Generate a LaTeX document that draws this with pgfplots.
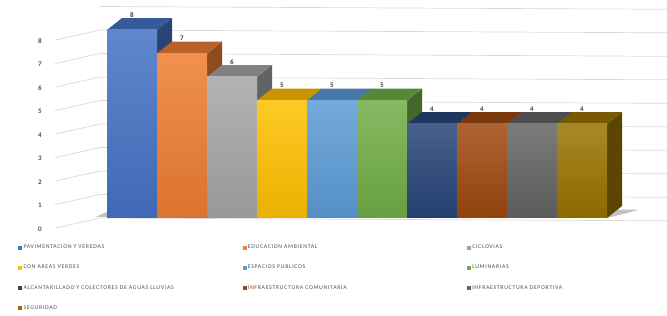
\documentclass[border=0pt]{standalone}
\usepackage{pgfplots}
\pgfplotsset{compat=1.18}
\usepackage{fontspec}
\setmainfont{Carlito}
\newfontfamily\legfont[LetterSpace=12]{Carlito}
\definecolor{c1}{HTML}{4472C4}
\definecolor{c2}{HTML}{ED7D31}
\definecolor{c3}{HTML}{A5A5A5}
\definecolor{c4}{HTML}{FFC000}
\definecolor{c5}{HTML}{5B9BD5}
\definecolor{c6}{HTML}{70AD47}
\definecolor{c7}{HTML}{264478}
\definecolor{c8}{HTML}{9E480E}
\definecolor{c9}{HTML}{636363}
\definecolor{c10}{HTML}{997300}
\definecolor{gridc}{HTML}{D9D9D9}
\definecolor{txt}{HTML}{505050}
\pgfplotsset{
  front/.style={forget plot, draw=none, shade, top color=#1!85!white, bottom color=#1!92!black},
  side/.style={forget plot, draw=none, fill=#1!60!black},
  topf/.style={forget plot, draw=none, fill=#1!78!black},
  grd/.style={forget plot, draw=gridc, line width=0.7pt},
}
\begin{document}
\begin{tikzpicture}
\useasboundingbox (0,0) rectangle (667pt,316pt);
\begin{axis}[
  at={(52pt,86.25pt)}, anchor=south west,
  x=50pt, y=23.5pt,
  xmin=-1.6, xmax=10.7, ymin=-0.5, ymax=9.5,
  axis lines=none, clip=false,
  legend columns=3,
  legend image code/.code={\fill[#1, draw=none] (0pt,-2pt) rectangle (4pt,2pt);},
  legend style={at={(-0.06,-0.05)}, anchor=north west, draw=none, fill=none,
    font=\legfont\fontsize{5.8}{6}\selectfont, text=txt,
    nodes={inner sep=1.2pt}, row sep=12.6pt,
    /tikz/every even column/.append style={column sep=0pt}},
  legend cell align=left,
]
% back wall gridlines
\addplot[grd] coordinates {(-1.54,-0.43) (-0.64,0) (10.7,-0.12)};
\addplot[grd] coordinates {(-1.54,0.57) (-0.64,1) (10.7,0.88)};
\addplot[grd] coordinates {(-1.54,1.57) (-0.64,2) (10.7,1.88)};
\addplot[grd] coordinates {(-1.54,2.57) (-0.64,3) (10.7,2.88)};
\addplot[grd] coordinates {(-1.54,3.57) (-0.64,4) (10.7,3.88)};
\addplot[grd] coordinates {(-1.54,4.57) (-0.64,5) (10.7,4.88)};
\addplot[grd] coordinates {(-1.54,5.57) (-0.64,6) (10.7,5.88)};
\addplot[grd] coordinates {(-1.54,6.57) (-0.64,7) (10.7,6.88)};
\addplot[grd] coordinates {(-1.54,7.57) (-0.64,8) (10.7,7.88)};
\addplot[grd] coordinates {(-0.64,9) (10.7,8.88)};
% y labels
\addplot[forget plot, draw=none, mark=none, nodes near coords, point meta=explicit symbolic,
  nodes near coords style={anchor=center, font=\bfseries\fontsize{7}{8}\selectfont, text=txt}]
  coordinates {(-1.84,-0.46)[0] (-1.84,0.54)[1] (-1.84,1.54)[2] (-1.84,2.54)[3] (-1.84,3.54)[4]
  (-1.84,4.54)[5] (-1.84,5.54)[6] (-1.84,6.54)[7] (-1.84,7.54)[8]};
% floor shadow
\addplot[forget plot, draw=none, fill=gray!65, opacity=0.75] coordinates {(-0.72,0.05) (9.5,0) (10.15,0.35) (-0.3,0.45)} --cycle;
% bars
\addplot[side=c1] coordinates {(0.5,0) (0.8,0.51) (0.8,8.51) (0.5,8)} --cycle;
\addplot[topf=c1] coordinates {(-0.5,8) (0.5,8) (0.8,8.51) (-0.2,8.51)} --cycle;
\addplot[front=c1] coordinates {(-0.5,0) (0.5,0) (0.5,8) (-0.5,8)} --cycle;
\addplot[side=c2] coordinates {(1.5,0) (1.8,0.51) (1.8,7.51) (1.5,7)} --cycle;
\addplot[topf=c2] coordinates {(0.5,7) (1.5,7) (1.8,7.51) (0.8,7.51)} --cycle;
\addplot[front=c2] coordinates {(0.5,0) (1.5,0) (1.5,7) (0.5,7)} --cycle;
\addplot[side=c3] coordinates {(2.5,0) (2.8,0.51) (2.8,6.51) (2.5,6)} --cycle;
\addplot[topf=c3] coordinates {(1.5,6) (2.5,6) (2.8,6.51) (1.8,6.51)} --cycle;
\addplot[front=c3] coordinates {(1.5,0) (2.5,0) (2.5,6) (1.5,6)} --cycle;
\addplot[side=c4] coordinates {(3.5,0) (3.8,0.51) (3.8,5.51) (3.5,5)} --cycle;
\addplot[topf=c4] coordinates {(2.5,5) (3.5,5) (3.8,5.51) (2.8,5.51)} --cycle;
\addplot[front=c4] coordinates {(2.5,0) (3.5,0) (3.5,5) (2.5,5)} --cycle;
\addplot[side=c5] coordinates {(4.5,0) (4.8,0.51) (4.8,5.51) (4.5,5)} --cycle;
\addplot[topf=c5] coordinates {(3.5,5) (4.5,5) (4.8,5.51) (3.8,5.51)} --cycle;
\addplot[front=c5] coordinates {(3.5,0) (4.5,0) (4.5,5) (3.5,5)} --cycle;
\addplot[side=c6] coordinates {(5.5,0) (5.8,0.51) (5.8,5.51) (5.5,5)} --cycle;
\addplot[topf=c6] coordinates {(4.5,5) (5.5,5) (5.8,5.51) (4.8,5.51)} --cycle;
\addplot[front=c6] coordinates {(4.5,0) (5.5,0) (5.5,5) (4.5,5)} --cycle;
\addplot[side=c7] coordinates {(6.5,0) (6.8,0.51) (6.8,4.51) (6.5,4)} --cycle;
\addplot[topf=c7] coordinates {(5.5,4) (6.5,4) (6.8,4.51) (5.8,4.51)} --cycle;
\addplot[front=c7] coordinates {(5.5,0) (6.5,0) (6.5,4) (5.5,4)} --cycle;
\addplot[side=c8] coordinates {(7.5,0) (7.8,0.51) (7.8,4.51) (7.5,4)} --cycle;
\addplot[topf=c8] coordinates {(6.5,4) (7.5,4) (7.8,4.51) (6.8,4.51)} --cycle;
\addplot[front=c8] coordinates {(6.5,0) (7.5,0) (7.5,4) (6.5,4)} --cycle;
\addplot[side=c9] coordinates {(8.5,0) (8.8,0.51) (8.8,4.51) (8.5,4)} --cycle;
\addplot[topf=c9] coordinates {(7.5,4) (8.5,4) (8.8,4.51) (7.8,4.51)} --cycle;
\addplot[front=c9] coordinates {(7.5,0) (8.5,0) (8.5,4) (7.5,4)} --cycle;
\addplot[side=c10] coordinates {(9.5,0) (9.8,0.51) (9.8,4.51) (9.5,4)} --cycle;
\addplot[topf=c10] coordinates {(8.5,4) (9.5,4) (9.8,4.51) (8.8,4.51)} --cycle;
\addplot[front=c10] coordinates {(8.5,0) (9.5,0) (9.5,4) (8.5,4)} --cycle;
% value labels
\addplot[forget plot, draw=none, mark=none, nodes near coords, point meta=explicit symbolic,
  nodes near coords style={anchor=center, font=\bfseries\fontsize{7}{7}\selectfont, text=black!75}]
  coordinates {(0,8.64)[8] (1,7.64)[7] (2,6.64)[6] (3,5.64)[5] (4,5.64)[5] (5,5.64)[5]
  (6,4.64)[4] (7,4.64)[4] (8,4.64)[4] (9,4.64)[4]};
% legend
\addlegendimage{fill=c1}\addlegendentry{\makebox[218pt][l]{PAVIMENTACION Y VEREDAS}}
\addlegendimage{fill=c2}\addlegendentry{\makebox[218pt][l]{EDUCACION AMBIENTAL}}
\addlegendimage{fill=c3}\addlegendentry{CICLOVIAS}
\addlegendimage{fill=c4}\addlegendentry{\makebox[218pt][l]{CON AREAS VERDES}}
\addlegendimage{fill=c5}\addlegendentry{\makebox[218pt][l]{ESPACIOS PUBLICOS}}
\addlegendimage{fill=c6}\addlegendentry{LUMINARIAS}
\addlegendimage{fill=c7}\addlegendentry{\makebox[218pt][l]{ALCANTARILLADO Y COLECTORES DE AGUAS LLUVIAS}}
\addlegendimage{fill=c8}\addlegendentry{\makebox[218pt][l]{INFRAESTRUCTURA COMUNITARIA}}
\addlegendimage{fill=c9}\addlegendentry{INFRAESTRUCTURA DEPORTIVA}
\addlegendimage{fill=c10}\addlegendentry{SEGURIDAD}
\end{axis}
\end{tikzpicture}
\end{document}
